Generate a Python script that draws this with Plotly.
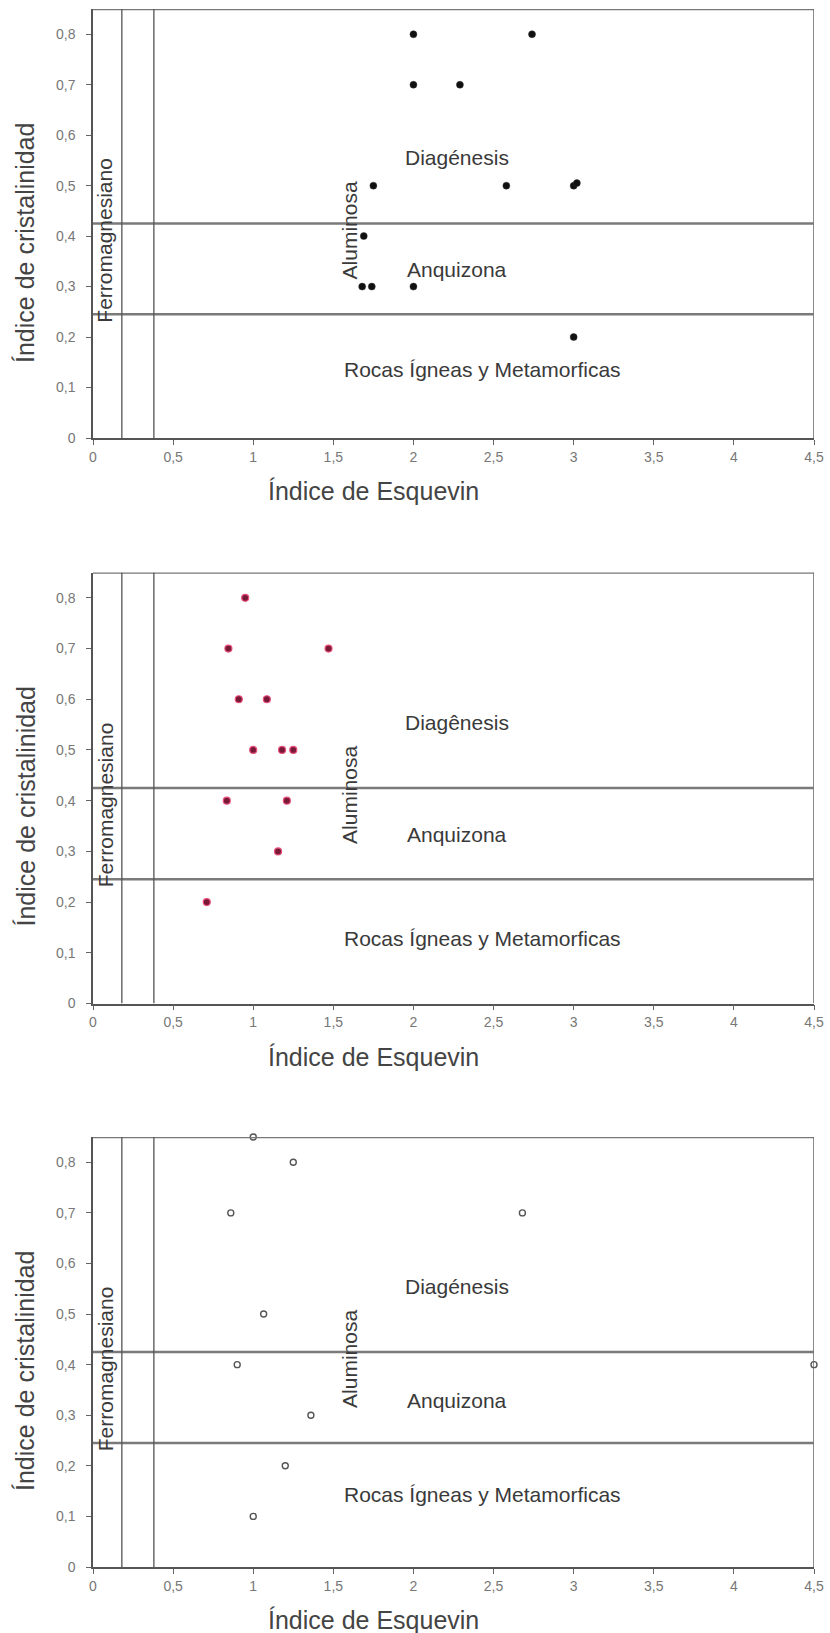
import plotly.graph_objects as go

# ---------------- data ----------------
esquevin_top = [2.0, 2.74, 2.0, 2.29, 1.75, 2.58, 3.0, 3.02, 1.69, 1.68, 1.74, 2.0, 3.0]
cristal_top = [0.8, 0.8, 0.7, 0.7, 0.5, 0.5, 0.5, 0.505, 0.4, 0.3, 0.3, 0.3, 0.2]

esquevin_mid = [0.95, 0.845, 1.47, 0.91, 1.085, 1.0, 1.18, 1.25, 0.835, 1.21, 1.155, 0.71]
cristal_mid = [0.8, 0.7, 0.7, 0.6, 0.6, 0.5, 0.5, 0.5, 0.4, 0.4, 0.3, 0.2]

esquevin_bot = [1.0, 1.25, 0.86, 2.68, 1.065, 0.9, 4.5, 1.36, 1.2, 1.0]
cristal_bot = [0.85, 0.8, 0.7, 0.7, 0.5, 0.4, 0.4, 0.3, 0.2, 0.1]

kubler_limits = [0.245, 0.425]        # horizontal zone boundaries
esquevin_limits = [0.18, 0.38]        # vertical zone boundaries
x_range = [0, 4.5]
y_range = [0, 0.85]
x_ticks = [0, 0.5, 1, 1.5, 2, 2.5, 3, 3.5, 4, 4.5]
x_ticklabels = ["0", "0,5", "1", "1,5", "2", "2,5", "3", "3,5", "4", "4,5"]
y_ticks = [0, 0.1, 0.2, 0.3, 0.4, 0.5, 0.6, 0.7, 0.8]
y_ticklabels = ["0", "0,1", "0,2", "0,3", "0,4", "0,5", "0,6", "0,7", "0,8"]

diag_labels = ["Diagénesis", "Diagênesis", "Diagénesis"]
zone_label_y = [  # (Diagénesis, Anquizona, Rocas) y positions per panel
    (0.556, 0.333, 0.135),
    (0.554, 0.333, 0.129),
    (0.555, 0.330, 0.144),
]

# ---------------- layout constants ----------------
W, H = 830, 1633
left_px, right_px = 93, 814
panels_px = [(9, 438), (572.5, 1003.5), (1137, 1567)]  # (top, bottom) pixel
FONT = "Liberation Sans, Arial, sans-serif"

fig = go.Figure()

marker_styles = [
    dict(color="#111111", size=7, symbol="circle", line=dict(color="#333", width=0.5)),
    dict(color="#7a1838", size=7, symbol="circle", line=dict(color="#e8507a", width=1.2)),
    dict(color="#555555", size=6, symbol="circle-open", line=dict(color="#555555", width=1.4)),
]
datasets = [(esquevin_top, cristal_top), (esquevin_mid, cristal_mid), (esquevin_bot, cristal_bot)]

layout = dict(
    template="none",
    width=W, height=H, autosize=False,
    margin=dict(l=0, r=0, t=0, b=0, pad=0),
    paper_bgcolor="white", plot_bgcolor="white",
    showlegend=False,
    font=dict(family=FONT, color="#444"),
)

shapes = []
annotations = []
for i, ((top, bot), (xs, ys), ms) in enumerate(zip(panels_px, datasets, marker_styles)):
    k = "" if i == 0 else str(i + 1)
    xa, ya = "x" + k, "y" + k
    fig.add_trace(go.Scatter(x=xs, y=ys, mode="markers", marker=ms,
                             xaxis=xa, yaxis=ya, cliponaxis=False, hoverinfo="x+y"))
    dom_y = [1 - bot / H, 1 - top / H]
    axis_common = dict(showgrid=False, zeroline=False, showline=True, linecolor="#555",
                       linewidth=1.5, ticks="outside", ticklen=5, tickcolor="#666",
                       automargin=False,
                       tickfont=dict(family=FONT, size=14, color="#777"))
    layout["xaxis" + k] = dict(domain=[left_px / W, right_px / W], range=x_range,
                               tickvals=x_ticks, ticktext=x_ticklabels,
                               anchor=ya, mirror=False, **axis_common)
    layout["yaxis" + k] = dict(domain=dom_y, range=y_range,
                               tickvals=y_ticks, ticktext=y_ticklabels,
                               anchor=xa, mirror=False, ticklabelstandoff=8, **axis_common)
    # box border: top and right
    shapes.append(dict(type="line", xref=xa, yref=ya, x0=x_range[0], x1=x_range[1],
                       y0=y_range[1], y1=y_range[1], line=dict(color="#777", width=2.5)))
    shapes.append(dict(type="line", xref=xa, yref=ya, x0=x_range[1], x1=x_range[1],
                       y0=y_range[0], y1=y_range[1], line=dict(color="#666", width=1.5)))
    for yl in kubler_limits:
        shapes.append(dict(type="line", xref=xa, yref=ya, x0=x_range[0], x1=x_range[1],
                           y0=yl, y1=yl, line=dict(color="#7a7a7a", width=2.5)))
    for xl in esquevin_limits:
        shapes.append(dict(type="line", xref=xa, yref=ya, x0=xl, x1=xl,
                           y0=y_range[0], y1=y_range[1], line=dict(color="#555", width=1.3)))
    dy, ay, ry = zone_label_y[i]
    lab_font = dict(family=FONT, size=21, color="#3a3a3a")
    for txt, xx, yy, ang in [(diag_labels[i], 2.27, dy, 0), ("Anquizona", 2.27, ay, 0),
                             ("Rocas Ígneas y Metamorficas", 2.43, ry, 0),
                             ("Aluminosa", 1.6, 0.412, -90),
                             ("Ferromagnesiano", 0.075, 0.391, -90)]:
        annotations.append(dict(text=txt, x=xx, y=yy, xref=xa, yref=ya, showarrow=False,
                                textangle=ang, font=lab_font, xanchor="center", yanchor="middle"))
    # axis titles
    title_font = dict(family=FONT, size=25, color="#444")
    annotations.append(dict(text="Índice de cristalinidad", x=25 / W, y=1 - (top + 234) / H,
                            xref="paper", yref="paper", showarrow=False, textangle=-90,
                            font=title_font, xanchor="center", yanchor="middle"))
    annotations.append(dict(text="Índice de Esquevin", x=373 / W, y=1 - (bot + 53) / H,
                            xref="paper", yref="paper", showarrow=False,
                            font=title_font, xanchor="center", yanchor="middle"))

layout["shapes"] = shapes
layout["annotations"] = annotations
fig.update_layout(**layout)
fig.write_html(
    "out.html",
    config={"displayModeBar": False},
    post_script="document.body.style.margin='0px';document.body.style.overflow='hidden';",
)
